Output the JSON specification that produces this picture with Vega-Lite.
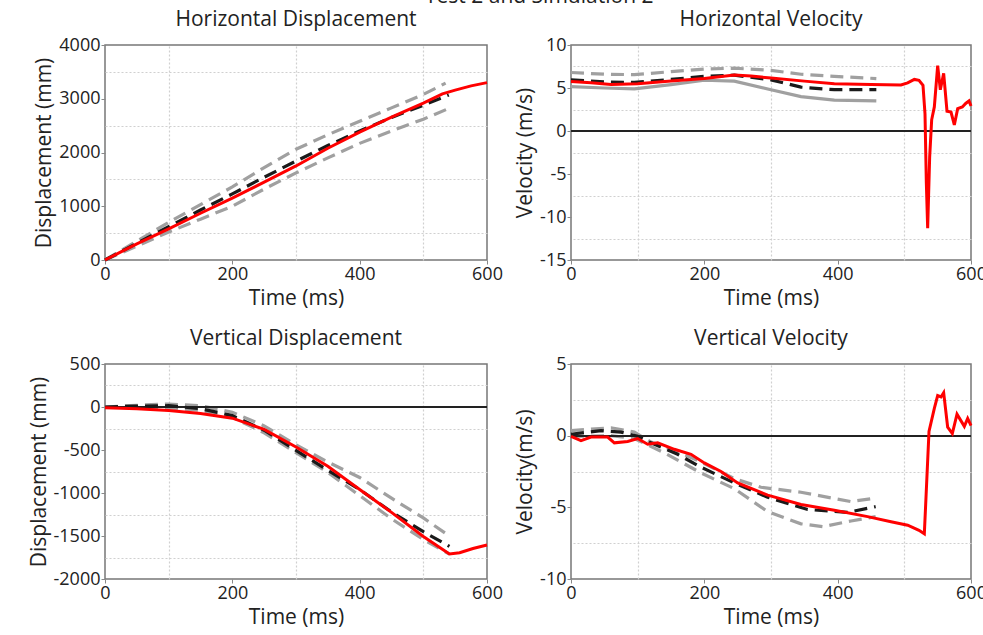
{
  "$schema": "https://vega.github.io/schema/vega-lite/v6.json",
  "padding": {"left": 27, "top": -14, "right": 0, "bottom": 0},
  "title": {"text": "Test 2 and Simulation 2", "fontSize": 21, "dx": 32, "anchor": "middle", "offset": 1},
  "config": {
    "font": "Open Sans",
    "view": {"stroke": "#777", "strokeWidth": 1.5},
    "axis": {"labelFontSize": 18, "titleFontSize": 21, "labelColor": "#222", "titleColor": "#222", "titleFontWeight": "normal", "ticks": true, "tickSize": 4, "tickColor": "#888", "domain": false, "gridColor": "#e2e2e2", "gridWidth": 1.2, "labelPadding": 1, "titlePadding": 4, "labelFlush": false, "labelOverlap": false, "labelExpr": "'' + datum.value"},
    "title": {"fontSize": 21, "fontWeight": "normal", "color": "#222", "offset": 6}
  },
  "data": {"values": [
    {"p":"HD","s":"sim","t":0,"v":0},{"p":"HD","s":"sim","t":25,"v":150},{"p":"HD","s":"sim","t":50,"v":300},{"p":"HD","s":"sim","t":100,"v":580},{"p":"HD","s":"sim","t":150,"v":870},{"p":"HD","s":"sim","t":200,"v":1150},{"p":"HD","s":"sim","t":250,"v":1450},{"p":"HD","s":"sim","t":300,"v":1750},{"p":"HD","s":"sim","t":350,"v":2080},{"p":"HD","s":"sim","t":400,"v":2380},{"p":"HD","s":"sim","t":450,"v":2660},{"p":"HD","s":"sim","t":500,"v":2920},{"p":"HD","s":"sim","t":530,"v":3090},{"p":"HD","s":"sim","t":550,"v":3160},{"p":"HD","s":"sim","t":575,"v":3240},{"p":"HD","s":"sim","t":600,"v":3300},
    {"p":"HD","s":"mean","t":0,"v":0},{"p":"HD","s":"mean","t":50,"v":310},{"p":"HD","s":"mean","t":100,"v":620},{"p":"HD","s":"mean","t":150,"v":930},{"p":"HD","s":"mean","t":200,"v":1230},{"p":"HD","s":"mean","t":250,"v":1540},{"p":"HD","s":"mean","t":300,"v":1840},{"p":"HD","s":"mean","t":350,"v":2130},{"p":"HD","s":"mean","t":400,"v":2400},{"p":"HD","s":"mean","t":450,"v":2650},{"p":"HD","s":"mean","t":500,"v":2880},{"p":"HD","s":"mean","t":540,"v":3070},
    {"p":"HD","s":"upper","t":0,"v":0},{"p":"HD","s":"upper","t":50,"v":350},{"p":"HD","s":"upper","t":100,"v":700},{"p":"HD","s":"upper","t":150,"v":1030},{"p":"HD","s":"upper","t":200,"v":1360},{"p":"HD","s":"upper","t":250,"v":1720},{"p":"HD","s":"upper","t":300,"v":2060},{"p":"HD","s":"upper","t":350,"v":2330},{"p":"HD","s":"upper","t":400,"v":2580},{"p":"HD","s":"upper","t":450,"v":2830},{"p":"HD","s":"upper","t":500,"v":3080},{"p":"HD","s":"upper","t":535,"v":3290},
    {"p":"HD","s":"lower","t":0,"v":0},{"p":"HD","s":"lower","t":50,"v":260},{"p":"HD","s":"lower","t":100,"v":520},{"p":"HD","s":"lower","t":150,"v":760},{"p":"HD","s":"lower","t":200,"v":1000},{"p":"HD","s":"lower","t":250,"v":1320},{"p":"HD","s":"lower","t":300,"v":1620},{"p":"HD","s":"lower","t":350,"v":1900},{"p":"HD","s":"lower","t":400,"v":2170},{"p":"HD","s":"lower","t":450,"v":2400},{"p":"HD","s":"lower","t":500,"v":2620},{"p":"HD","s":"lower","t":540,"v":2820},

    {"p":"HV","s":"sim","t":0,"v":5.75},{"p":"HV","s":"sim","t":30,"v":5.6},{"p":"HV","s":"sim","t":60,"v":5.4},{"p":"HV","s":"sim","t":100,"v":5.5},{"p":"HV","s":"sim","t":150,"v":5.8},{"p":"HV","s":"sim","t":200,"v":6.1},{"p":"HV","s":"sim","t":245,"v":6.5},{"p":"HV","s":"sim","t":270,"v":6.4},{"p":"HV","s":"sim","t":300,"v":6.15},{"p":"HV","s":"sim","t":350,"v":5.8},{"p":"HV","s":"sim","t":395,"v":5.5},{"p":"HV","s":"sim","t":450,"v":5.4},{"p":"HV","s":"sim","t":495,"v":5.35},{"p":"HV","s":"sim","t":505,"v":5.6},{"p":"HV","s":"sim","t":515,"v":6.0},{"p":"HV","s":"sim","t":522,"v":5.9},{"p":"HV","s":"sim","t":528,"v":5.3},{"p":"HV","s":"sim","t":531,"v":2},{"p":"HV","s":"sim","t":533,"v":-6},{"p":"HV","s":"sim","t":535,"v":-11.3},{"p":"HV","s":"sim","t":538,"v":-3},{"p":"HV","s":"sim","t":541,"v":1.3},{"p":"HV","s":"sim","t":545,"v":2.8},{"p":"HV","s":"sim","t":550,"v":7.6},{"p":"HV","s":"sim","t":554,"v":4.8},{"p":"HV","s":"sim","t":559,"v":6.7},{"p":"HV","s":"sim","t":564,"v":2.3},{"p":"HV","s":"sim","t":570,"v":2.2},{"p":"HV","s":"sim","t":575,"v":0.7},{"p":"HV","s":"sim","t":580,"v":2.6},{"p":"HV","s":"sim","t":587,"v":2.8},{"p":"HV","s":"sim","t":592,"v":3.2},{"p":"HV","s":"sim","t":597,"v":3.5},{"p":"HV","s":"sim","t":600,"v":2.9},
    {"p":"HV","s":"mean","t":0,"v":5.95},{"p":"HV","s":"mean","t":50,"v":5.7},{"p":"HV","s":"mean","t":95,"v":5.65},{"p":"HV","s":"mean","t":150,"v":6.0},{"p":"HV","s":"mean","t":200,"v":6.35},{"p":"HV","s":"mean","t":245,"v":6.5},{"p":"HV","s":"mean","t":300,"v":5.95},{"p":"HV","s":"mean","t":345,"v":5.1},{"p":"HV","s":"mean","t":395,"v":4.8},{"p":"HV","s":"mean","t":458,"v":4.8},
    {"p":"HV","s":"upper","t":0,"v":6.8},{"p":"HV","s":"upper","t":50,"v":6.6},{"p":"HV","s":"upper","t":95,"v":6.55},{"p":"HV","s":"upper","t":150,"v":6.9},{"p":"HV","s":"upper","t":200,"v":7.2},{"p":"HV","s":"upper","t":245,"v":7.3},{"p":"HV","s":"upper","t":300,"v":7.05},{"p":"HV","s":"upper","t":345,"v":6.6},{"p":"HV","s":"upper","t":395,"v":6.35},{"p":"HV","s":"upper","t":458,"v":6.1},
    {"p":"HV","s":"other","t":0,"v":5.15},{"p":"HV","s":"other","t":50,"v":5.0},{"p":"HV","s":"other","t":95,"v":4.9},{"p":"HV","s":"other","t":150,"v":5.4},{"p":"HV","s":"other","t":200,"v":5.9},{"p":"HV","s":"other","t":245,"v":5.8},{"p":"HV","s":"other","t":300,"v":4.8},{"p":"HV","s":"other","t":345,"v":4.0},{"p":"HV","s":"other","t":395,"v":3.6},{"p":"HV","s":"other","t":458,"v":3.5},

    {"p":"VD","s":"sim","t":0,"v":-10},{"p":"VD","s":"sim","t":50,"v":-20},{"p":"VD","s":"sim","t":100,"v":-40},{"p":"VD","s":"sim","t":150,"v":-75},{"p":"VD","s":"sim","t":200,"v":-130},{"p":"VD","s":"sim","t":250,"v":-260},{"p":"VD","s":"sim","t":300,"v":-465},{"p":"VD","s":"sim","t":350,"v":-690},{"p":"VD","s":"sim","t":400,"v":-960},{"p":"VD","s":"sim","t":450,"v":-1225},{"p":"VD","s":"sim","t":500,"v":-1505},{"p":"VD","s":"sim","t":541,"v":-1710},{"p":"VD","s":"sim","t":557,"v":-1695},{"p":"VD","s":"sim","t":578,"v":-1645},{"p":"VD","s":"sim","t":600,"v":-1605},
    {"p":"VD","s":"mean","t":0,"v":0},{"p":"VD","s":"mean","t":50,"v":10},{"p":"VD","s":"mean","t":100,"v":15},{"p":"VD","s":"mean","t":150,"v":-20},{"p":"VD","s":"mean","t":200,"v":-100},{"p":"VD","s":"mean","t":250,"v":-270},{"p":"VD","s":"mean","t":300,"v":-505},{"p":"VD","s":"mean","t":350,"v":-735},{"p":"VD","s":"mean","t":400,"v":-960},{"p":"VD","s":"mean","t":450,"v":-1220},{"p":"VD","s":"mean","t":500,"v":-1450},{"p":"VD","s":"mean","t":541,"v":-1620},
    {"p":"VD","s":"upper","t":0,"v":0},{"p":"VD","s":"upper","t":50,"v":20},{"p":"VD","s":"upper","t":100,"v":35},{"p":"VD","s":"upper","t":150,"v":15},{"p":"VD","s":"upper","t":200,"v":-60},{"p":"VD","s":"upper","t":250,"v":-220},{"p":"VD","s":"upper","t":300,"v":-440},{"p":"VD","s":"upper","t":350,"v":-640},{"p":"VD","s":"upper","t":400,"v":-820},{"p":"VD","s":"upper","t":450,"v":-1060},{"p":"VD","s":"upper","t":500,"v":-1290},{"p":"VD","s":"upper","t":541,"v":-1500},
    {"p":"VD","s":"lower","t":0,"v":0},{"p":"VD","s":"lower","t":50,"v":0},{"p":"VD","s":"lower","t":100,"v":-10},{"p":"VD","s":"lower","t":150,"v":-40},{"p":"VD","s":"lower","t":200,"v":-120},{"p":"VD","s":"lower","t":250,"v":-300},{"p":"VD","s":"lower","t":300,"v":-530},{"p":"VD","s":"lower","t":350,"v":-760},{"p":"VD","s":"lower","t":400,"v":-1030},{"p":"VD","s":"lower","t":450,"v":-1300},{"p":"VD","s":"lower","t":500,"v":-1540},{"p":"VD","s":"lower","t":541,"v":-1710},

    {"p":"VV","s":"sim","t":0,"v":-0.05},{"p":"VV","s":"sim","t":15,"v":-0.35},{"p":"VV","s":"sim","t":30,"v":-0.1},{"p":"VV","s":"sim","t":55,"v":-0.1},{"p":"VV","s":"sim","t":65,"v":-0.5},{"p":"VV","s":"sim","t":85,"v":-0.4},{"p":"VV","s":"sim","t":100,"v":-0.2},{"p":"VV","s":"sim","t":115,"v":-0.6},{"p":"VV","s":"sim","t":130,"v":-0.5},{"p":"VV","s":"sim","t":155,"v":-0.95},{"p":"VV","s":"sim","t":180,"v":-1.3},{"p":"VV","s":"sim","t":200,"v":-1.9},{"p":"VV","s":"sim","t":225,"v":-2.5},{"p":"VV","s":"sim","t":250,"v":-3.3},{"p":"VV","s":"sim","t":295,"v":-4.15},{"p":"VV","s":"sim","t":345,"v":-4.8},{"p":"VV","s":"sim","t":395,"v":-5.2},{"p":"VV","s":"sim","t":445,"v":-5.65},{"p":"VV","s":"sim","t":480,"v":-6.0},{"p":"VV","s":"sim","t":505,"v":-6.25},{"p":"VV","s":"sim","t":522,"v":-6.6},{"p":"VV","s":"sim","t":530,"v":-6.85},{"p":"VV","s":"sim","t":537,"v":0.3},{"p":"VV","s":"sim","t":545,"v":1.9},{"p":"VV","s":"sim","t":550,"v":2.8},{"p":"VV","s":"sim","t":555,"v":2.7},{"p":"VV","s":"sim","t":559,"v":3.0},{"p":"VV","s":"sim","t":565,"v":0.6},{"p":"VV","s":"sim","t":572,"v":0.15},{"p":"VV","s":"sim","t":579,"v":1.5},{"p":"VV","s":"sim","t":590,"v":0.65},{"p":"VV","s":"sim","t":595,"v":1.2},{"p":"VV","s":"sim","t":600,"v":0.7},
    {"p":"VV","s":"mean","t":0,"v":0.1},{"p":"VV","s":"mean","t":45,"v":0.35},{"p":"VV","s":"mean","t":75,"v":0.25},{"p":"VV","s":"mean","t":100,"v":-0.05},{"p":"VV","s":"mean","t":120,"v":-0.5},{"p":"VV","s":"mean","t":160,"v":-1.3},{"p":"VV","s":"mean","t":195,"v":-2.2},{"p":"VV","s":"mean","t":245,"v":-3.3},{"p":"VV","s":"mean","t":295,"v":-4.3},{"p":"VV","s":"mean","t":355,"v":-5.15},{"p":"VV","s":"mean","t":415,"v":-5.35},{"p":"VV","s":"mean","t":457,"v":-4.95},
    {"p":"VV","s":"upper","t":0,"v":0.35},{"p":"VV","s":"upper","t":60,"v":0.55},{"p":"VV","s":"upper","t":95,"v":0.25},{"p":"VV","s":"upper","t":120,"v":-0.45},{"p":"VV","s":"upper","t":160,"v":-1.1},{"p":"VV","s":"upper","t":195,"v":-1.85},{"p":"VV","s":"upper","t":245,"v":-3.0},{"p":"VV","s":"upper","t":285,"v":-3.6},{"p":"VV","s":"upper","t":345,"v":-3.95},{"p":"VV","s":"upper","t":420,"v":-4.6},{"p":"VV","s":"upper","t":457,"v":-4.35},
    {"p":"VV","s":"lower","t":0,"v":-0.05},{"p":"VV","s":"lower","t":60,"v":0.0},{"p":"VV","s":"lower","t":95,"v":-0.2},{"p":"VV","s":"lower","t":140,"v":-1.2},{"p":"VV","s":"lower","t":195,"v":-2.6},{"p":"VV","s":"lower","t":245,"v":-3.7},{"p":"VV","s":"lower","t":295,"v":-5.3},{"p":"VV","s":"lower","t":345,"v":-6.15},{"p":"VV","s":"lower","t":378,"v":-6.35},{"p":"VV","s":"lower","t":420,"v":-5.95},{"p":"VV","s":"lower","t":457,"v":-5.65}
  ]},
  "spacing": 18,
  "vconcat": [
    {"spacing": 9, "hconcat": [
      {"title": "Horizontal Displacement", "width": 382, "height": 215,
       "transform": [{"filter": "datum.p === 'HD'"}],
       "resolve": {"axis": {"x": "independent", "y": "independent"}},
       "layer": [
        {"mark": {"type": "line", "strokeDash": [13, 7], "strokeWidth": 3.2, "color": "#a0a0a0"},
         "transform": [{"filter": "datum.s === 'upper' || datum.s === 'lower'"}],
         "encoding": {
           "x": {"field": "t", "type": "quantitative", "scale": {"domain": [0, 600], "nice": false}, "axis": {"orient": "top", "values": [100, 300, 500], "labels": false, "ticks": false, "title": null, "gridDash": [2, 2], "gridColor": "#d0d0d0"}},
           "y": {"field": "v", "type": "quantitative", "scale": {"domain": [0, 4000], "nice": false}, "axis": {"orient": "right", "values": [500, 1500, 2500, 3500], "labels": false, "ticks": false, "title": null, "gridDash": [2, 2], "gridColor": "#d0d0d0"}},
           "detail": {"field": "s"}}},
        {"mark": {"type": "line", "strokeDash": [13, 7], "strokeWidth": 3.2, "color": "#1a1a1a"},
         "transform": [{"filter": "datum.s === 'mean'"}],
         "encoding": {
           "x": {"field": "t", "type": "quantitative", "scale": {"domain": [0, 600], "nice": false}, "axis": null},
           "y": {"field": "v", "type": "quantitative", "scale": {"domain": [0, 4000], "nice": false}, "axis": null}}},
        {"mark": {"type": "line", "strokeWidth": 3, "color": "#ff0000"},
         "transform": [{"filter": "datum.s === 'sim'"}],
         "encoding": {
           "x": {"field": "t", "type": "quantitative", "scale": {"domain": [0, 600], "nice": false}, "axis": {"orient": "bottom", "values": [0, 200, 400, 600], "title": "Time (ms)"}},
           "y": {"field": "v", "type": "quantitative", "scale": {"domain": [0, 4000], "nice": false}, "axis": {"orient": "left", "values": [0, 1000, 2000, 3000, 4000], "title": "Displacement (mm)"}}}}
       ]},
      {"title": "Horizontal Velocity", "width": 400, "height": 215,
       "transform": [{"filter": "datum.p === 'HV'"}],
       "resolve": {"axis": {"x": "independent", "y": "independent"}},
       "layer": [
        {"mark": {"type": "line", "strokeDash": [13, 7], "strokeWidth": 3.2, "color": "#a0a0a0"},
         "transform": [{"filter": "datum.s === 'upper'"}],
         "encoding": {
           "x": {"field": "t", "type": "quantitative", "scale": {"domain": [0, 600], "nice": false}, "axis": {"orient": "top", "values": [100, 300, 500], "labels": false, "ticks": false, "title": null, "gridDash": [2, 2], "gridColor": "#d0d0d0"}},
           "y": {"field": "v", "type": "quantitative", "scale": {"domain": [-15, 10], "nice": false}, "axis": {"orient": "right", "values": [-12.5, -7.5, -2.5, 2.5, 7.5], "labels": false, "ticks": false, "title": null, "gridDash": [2, 2], "gridColor": "#d0d0d0"}}}},
        {"mark": {"type": "line", "strokeWidth": 3.2, "color": "#a0a0a0"},
         "transform": [{"filter": "datum.s === 'other'"}],
         "encoding": {
           "x": {"field": "t", "type": "quantitative", "scale": {"domain": [0, 600], "nice": false}, "axis": null},
           "y": {"field": "v", "type": "quantitative", "scale": {"domain": [-15, 10], "nice": false}, "axis": null}}},
        {"mark": {"type": "rule", "color": "#222", "strokeWidth": 1.2},
         "encoding": {"y": {"datum": 0, "type": "quantitative", "scale": {"domain": [-15, 10], "nice": false}, "axis": null}}},
        {"mark": {"type": "line", "strokeDash": [13, 7], "strokeWidth": 3.2, "color": "#1a1a1a"},
         "transform": [{"filter": "datum.s === 'mean'"}],
         "encoding": {
           "x": {"field": "t", "type": "quantitative", "scale": {"domain": [0, 600], "nice": false}, "axis": null},
           "y": {"field": "v", "type": "quantitative", "scale": {"domain": [-15, 10], "nice": false}, "axis": null}}},
        {"mark": {"type": "line", "strokeWidth": 3, "color": "#ff0000"},
         "transform": [{"filter": "datum.s === 'sim'"}],
         "encoding": {
           "x": {"field": "t", "type": "quantitative", "scale": {"domain": [0, 600], "nice": false}, "axis": {"orient": "bottom", "values": [0, 200, 400, 600], "title": "Time (ms)"}},
           "y": {"field": "v", "type": "quantitative", "scale": {"domain": [-15, 10], "nice": false}, "axis": {"orient": "left", "values": [-15, -10, -5, 0, 5, 10], "title": "Velocity (m/s)"}}}}
       ]}
    ]},
    {"spacing": 9, "hconcat": [
      {"title": "Vertical Displacement", "width": 382, "height": 215,
       "transform": [{"filter": "datum.p === 'VD'"}],
       "resolve": {"axis": {"x": "independent", "y": "independent"}},
       "layer": [
        {"mark": {"type": "line", "strokeDash": [13, 7], "strokeWidth": 3.2, "color": "#a0a0a0"},
         "transform": [{"filter": "datum.s === 'upper' || datum.s === 'lower'"}],
         "encoding": {
           "x": {"field": "t", "type": "quantitative", "scale": {"domain": [0, 600], "nice": false}, "axis": {"orient": "top", "values": [100, 300, 500], "labels": false, "ticks": false, "title": null, "gridDash": [2, 2], "gridColor": "#d0d0d0"}},
           "y": {"field": "v", "type": "quantitative", "scale": {"domain": [-2000, 500], "nice": false}, "axis": {"orient": "right", "values": [-1750, -1250, -750, -250, 250], "labels": false, "ticks": false, "title": null, "gridDash": [2, 2], "gridColor": "#d0d0d0"}},
           "detail": {"field": "s"}}},
        {"mark": {"type": "rule", "color": "#222", "strokeWidth": 1.2},
         "encoding": {"y": {"datum": 0, "type": "quantitative", "scale": {"domain": [-2000, 500], "nice": false}, "axis": null}}},
        {"mark": {"type": "line", "strokeDash": [13, 7], "strokeWidth": 3.2, "color": "#1a1a1a"},
         "transform": [{"filter": "datum.s === 'mean'"}],
         "encoding": {
           "x": {"field": "t", "type": "quantitative", "scale": {"domain": [0, 600], "nice": false}, "axis": null},
           "y": {"field": "v", "type": "quantitative", "scale": {"domain": [-2000, 500], "nice": false}, "axis": null}}},
        {"mark": {"type": "line", "strokeWidth": 3, "color": "#ff0000"},
         "transform": [{"filter": "datum.s === 'sim'"}],
         "encoding": {
           "x": {"field": "t", "type": "quantitative", "scale": {"domain": [0, 600], "nice": false}, "axis": {"orient": "bottom", "values": [0, 200, 400, 600], "title": "Time (ms)"}},
           "y": {"field": "v", "type": "quantitative", "scale": {"domain": [-2000, 500], "nice": false}, "axis": {"orient": "left", "values": [-2000, -1500, -1000, -500, 0, 500], "title": "Displacement (mm)"}}}}
       ]},
      {"title": "Vertical Velocity", "width": 400, "height": 215,
       "transform": [{"filter": "datum.p === 'VV'"}],
       "resolve": {"axis": {"x": "independent", "y": "independent"}},
       "layer": [
        {"mark": {"type": "line", "strokeDash": [13, 7], "strokeWidth": 3.2, "color": "#a0a0a0"},
         "transform": [{"filter": "datum.s === 'upper' || datum.s === 'lower'"}],
         "encoding": {
           "x": {"field": "t", "type": "quantitative", "scale": {"domain": [0, 600], "nice": false}, "axis": {"orient": "top", "values": [100, 300, 500], "labels": false, "ticks": false, "title": null, "gridDash": [2, 2], "gridColor": "#d0d0d0"}},
           "y": {"field": "v", "type": "quantitative", "scale": {"domain": [-10, 5], "nice": false}, "axis": {"orient": "right", "values": [-7.5, -2.5, 2.5], "labels": false, "ticks": false, "title": null, "gridDash": [2, 2], "gridColor": "#d0d0d0"}},
           "detail": {"field": "s"}}},
        {"mark": {"type": "rule", "color": "#222", "strokeWidth": 1.2},
         "encoding": {"y": {"datum": 0, "type": "quantitative", "scale": {"domain": [-10, 5], "nice": false}, "axis": null}}},
        {"mark": {"type": "line", "strokeDash": [13, 7], "strokeWidth": 3.2, "color": "#1a1a1a"},
         "transform": [{"filter": "datum.s === 'mean'"}],
         "encoding": {
           "x": {"field": "t", "type": "quantitative", "scale": {"domain": [0, 600], "nice": false}, "axis": null},
           "y": {"field": "v", "type": "quantitative", "scale": {"domain": [-10, 5], "nice": false}, "axis": null}}},
        {"mark": {"type": "line", "strokeWidth": 3, "color": "#ff0000"},
         "transform": [{"filter": "datum.s === 'sim'"}],
         "encoding": {
           "x": {"field": "t", "type": "quantitative", "scale": {"domain": [0, 600], "nice": false}, "axis": {"orient": "bottom", "values": [0, 200, 400, 600], "title": "Time (ms)"}},
           "y": {"field": "v", "type": "quantitative", "scale": {"domain": [-10, 5], "nice": false}, "axis": {"orient": "left", "values": [-10, -5, 0, 5], "title": "Velocity(m/s)"}}}}
       ]}
    ]}
  ]
}
